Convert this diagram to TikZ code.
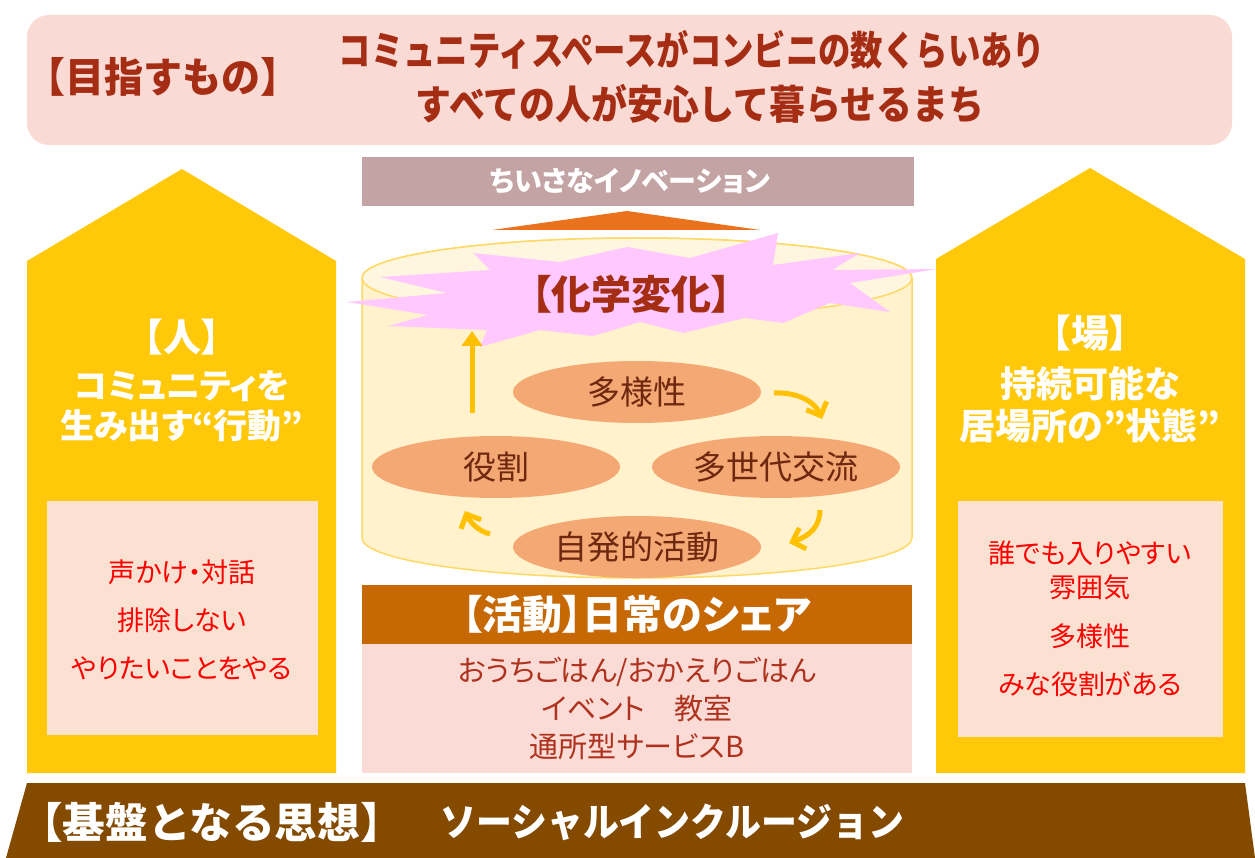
\documentclass[tikz,border=0pt]{standalone}
\usepackage{fontspec}
\setmainfont{Noto Sans CJK JP}
\newfontfamily\jpp{Noto Sans CJK JP}[RawFeature=+palt]
\usetikzlibrary{arrows.meta,shapes.geometric}
\definecolor{banpink}{RGB}{250,218,212}
\definecolor{darkred}{RGB}{165,45,20}
\definecolor{mauve}{RGB}{195,163,163}
\definecolor{orangetri}{RGB}{234,114,28}
\definecolor{cylbody}{RGB}{255,242,204}
\definecolor{cyltop}{RGB}{255,246,224}
\definecolor{cylline}{RGB}{255,217,102}
\definecolor{burst}{RGB}{255,200,255}
\definecolor{ellfill}{RGB}{244,168,116}
\definecolor{elltext}{RGB}{110,40,15}
\definecolor{arrowy}{RGB}{255,192,0}
\definecolor{actbar}{RGB}{198,104,4}
\definecolor{actpink}{RGB}{250,219,213}
\definecolor{acttext}{RGB}{175,50,30}
\definecolor{pillar}{RGB}{255,201,10}
\definecolor{innerbox}{RGB}{250,225,210}
\definecolor{redtext}{RGB}{255,0,0}
\definecolor{basebrown}{RGB}{131,74,0}
\newcommand\fsz[2]{\fontsize{#1}{#2}\selectfont}
\begin{document}
\begin{tikzpicture}[x=1pt,y=-1pt,
  ellnode/.style={ellipse, fill=ellfill, minimum width=248pt, minimum height=62pt, inner sep=0pt, text=elltext, font=\fsz{33}{36}},
  yarrow/.style={draw=arrowy, line width=5pt, -{Straight Barb[length=11pt,width=22pt,line width=5pt]}},
  pilltext/.style={text=white, font=\jpp\fsz{34}{40}\bfseries, align=center},
  redlist/.style={text=redtext, font=\jpp\fsz{27}{48}, align=center},
]
\useasboundingbox (0,0) rectangle (1255,858);
% top banner
\path[fill=banpink, rounded corners=22pt] (27,15) rectangle (1232,145);
\node[text=darkred, font=\fsz{39}{44}\bfseries, anchor=west, inner sep=0pt, yscale=1.05] (goal) at (26,77) {【目指すもの】};
\node[text=darkred, font=\fsz{39}{44}\bfseries, inner sep=0pt, xscale=0.83, yscale=1.03] (goal1) at (692,50) {コミュニティスペースがコンビニの数くらいあり};
\node[text=darkred, font=\fsz{39}{44}\bfseries, inner sep=0pt, xscale=0.92, yscale=1.03] (goal2) at (700,104) {すべての人が安心して暮らせるまち};
% innovation bar
\node[fill=mauve, minimum width=552pt, minimum height=49pt, inner sep=0pt] (inno) at (638,181.5) {};
\node[text=white, font=\jpp\fsz{28}{30}\bfseries, inner sep=0pt] (innotext) at (630,181.5) {ちいさなイノベーション};
% orange triangle
\path[fill=orangetri] (492,230) -- (627,211) -- (760,230) -- cycle;
% cylinder
\path[fill=cylbody, draw=cylline, line width=1.5pt] (362,278) -- (362,538) arc[start angle=180, end angle=360, x radius=275pt, y radius=40pt] -- (912,278) arc[start angle=0, end angle=180, x radius=275pt, y radius=40pt] -- cycle;
\path[fill=cyltop, draw=cylline, line width=1.5pt] (637,278) ellipse [x radius=275pt, y radius=40pt];
% burst
\path[fill=burst] (473,253) -- (560,262) -- (627,247) -- (690,258) -- (778,233) -- (773,265) -- (860,253) -- (832,270) -- (937,269) -- (850,283) -- (890,312) -- (830,303) -- (783,323) -- (745,318) -- (683,333) -- (640,322) -- (593,336) -- (540,330) -- (480,347) -- (487,330) -- (388,326) -- (428,315) -- (347,302) -- (447,293) -- (380,277) -- (490,270) -- cycle;
\node[text=darkred, font=\jpp\fsz{40}{44}\bfseries, inner sep=0pt] (chem) at (631,294) {【化学変化】};
% ellipses
\node[ellnode] (tayo) at (637,392) {多様性};
\node[ellnode] (yaku) at (496,467) {役割};
\node[ellnode] (tase) at (776,467) {多世代交流};
\node[ellnode] (jiha) at (637,547) {自発的活動};
% arrows
\coordinate (a1s) at (472,413);
\coordinate (a1e) at (472,331);
\draw[draw=arrowy, line width=5pt, -{Triangle[length=15pt,width=20pt]}] (a1s) -- (a1e);
\coordinate (a2s) at (774,393);
\coordinate (a2e) at (822,419);
\draw[yarrow] (a2s) .. controls (798,392) and (815,402) .. (a2e);
\coordinate (a3s) at (820,510);
\coordinate (a3e) at (789,543);
\draw[yarrow] (a3s) .. controls (820,526) and (810,536) .. (a3e);
\coordinate (a4s) at (490,534);
\coordinate (a4e) at (465,511);
\draw[yarrow] (a4s) .. controls (478,531) and (470,522) .. (a4e);
% activity bar
\node[fill=actbar, minimum width=550pt, minimum height=59pt, inner sep=0pt, text=white, font=\jpp\fsz{40}{42}\bfseries] (act) at (637,614.5) {【活動】日常のシェア};
\node[fill=actpink, minimum width=550pt, minimum height=129pt, inner sep=0pt, text=acttext, font=\jpp\fsz{29}{38}, align=center] (actlist) at (637,708.5) {おうちごはん/おかえりごはん\\イベント\hspace{1em}教室\\通所型サービスB};
% left pillar
\path[fill=pillar] (27,261) -- (182,169) -- (336,261) -- (336,773) -- (27,773) -- cycle;
\node[pilltext, font=\jpp\fsz{38}{40}\bfseries] (hito) at (182,337) {【人】};
\node[pilltext] (hitosub) at (182,406) {コミュニティを\\生み出す“行動”};
\node[fill=innerbox, minimum width=271pt, minimum height=234pt, inner sep=0pt] (lbox) at (182,618) {};
\node[redlist] (ltext) at (182,620) {声かけ・対話\\排除しない\\やりたいことをやる};
% right pillar
\path[fill=pillar] (936,259) -- (1090,168) -- (1245,259) -- (1245,773) -- (936,773) -- cycle;
\node[pilltext, font=\jpp\fsz{38}{40}\bfseries] (ba) at (1090,333) {【場】};
\node[pilltext, font=\jpp\fsz{36}{42}\bfseries] (basub) at (1090,405) {持続可能な\\居場所の”状態”};
\node[fill=innerbox, minimum width=265pt, minimum height=236pt, inner sep=0pt] (rbox) at (1090,619) {};
\node[redlist, font=\jpp\fsz{27}{34}] (rtext1) at (1090,570) {誰でも入りやすい\\雰囲気};
\node[redlist] (rtext2) at (1090,660) {多様性\\みな役割がある};
% base banner
\path[fill=basebrown] (27,783) -- (1245,783) -- (1255,858) -- (6,858) -- cycle;
\node[text=white, font=\fsz{41}{44}\bfseries, anchor=west, inner sep=0pt, xscale=1.04, yscale=1.03] (base) at (20,822) {【基盤となる思想】};
\node[text=white, font=\fsz{37}{44}\bfseries, anchor=west, inner sep=0pt, xscale=0.97, yscale=1.05] (basev) at (440,822) {ソーシャルインクルージョン};
\end{tikzpicture}
\end{document}
